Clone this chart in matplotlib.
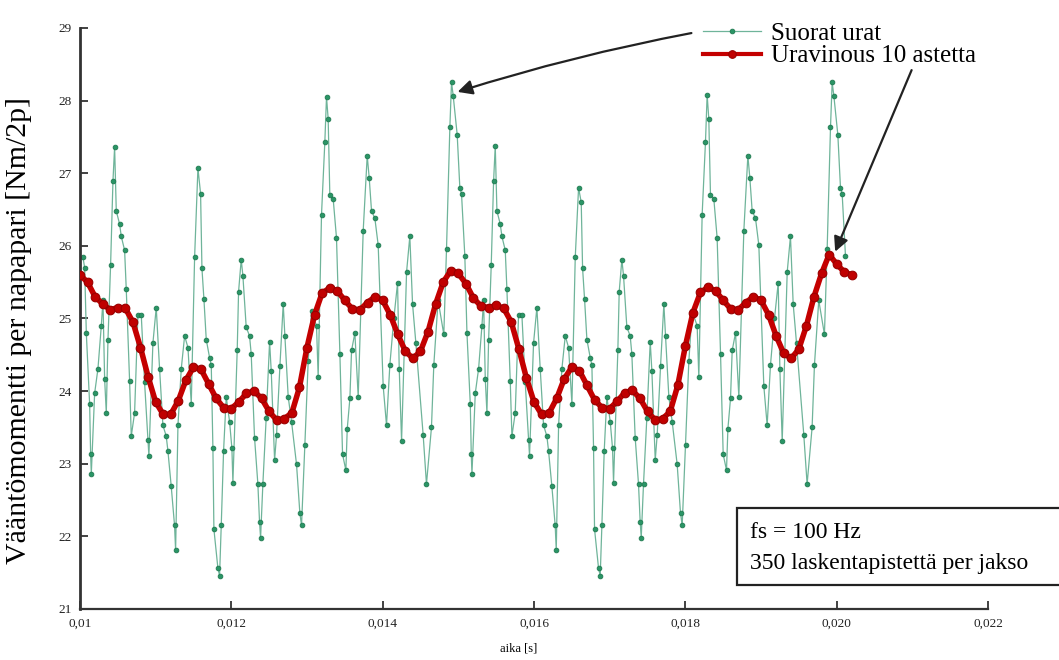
import matplotlib
matplotlib.use("Agg")
import matplotlib.pyplot as plt
import matplotlib.lines as mlines
from matplotlib.patches import Rectangle
import numpy as np

plt.rcParams['font.family'] = ['Liberation Serif', 'DejaVu Serif']

# --- data ---
# "Suorat urat" (straight slots), time [s] and torque [Nm/2p]
green_t = [
    0.010040, 0.010062, 0.010084, 0.010128, 0.010141, 0.010150, 0.010194, 0.010238,
    0.010282, 0.010304, 0.010326, 0.010348, 0.010370, 0.010405, 0.010436, 0.010458,
    0.010480, 0.010524, 0.010546, 0.010590, 0.010612, 0.010656, 0.010678, 0.010722,
    0.010766, 0.010810, 0.010854, 0.010898, 0.010911, 0.010964, 0.011008, 0.011052,
    0.011096, 0.011140, 0.011162, 0.011206, 0.011250, 0.011264, 0.011295, 0.011339,
    0.011383, 0.011427, 0.011471, 0.011515, 0.011559, 0.011594, 0.011612, 0.011638,
    0.011669, 0.011713, 0.011735, 0.011757, 0.011770, 0.011823, 0.011845, 0.011867,
    0.011898, 0.011933, 0.011977, 0.012008, 0.012021, 0.012078, 0.012096, 0.012131,
    0.012153, 0.012197, 0.012241, 0.012263, 0.012307, 0.012351, 0.012373, 0.012387,
    0.012417, 0.012461, 0.012506, 0.012528, 0.012572, 0.012598, 0.012642, 0.012686,
    0.012708, 0.012752, 0.012796, 0.012862, 0.012906, 0.012928, 0.012972, 0.013016,
    0.013060, 0.013126, 0.013148, 0.013192, 0.013236, 0.013258, 0.013280, 0.013302,
    0.013346, 0.013390, 0.013435, 0.013470, 0.013514, 0.013532, 0.013567, 0.013589,
    0.013633, 0.013677, 0.013743, 0.013796, 0.013822, 0.013853, 0.013897, 0.013941,
    0.014007, 0.014051, 0.014095, 0.014148, 0.014197, 0.014219, 0.014250, 0.014316,
    0.014359, 0.014395, 0.014439, 0.014535, 0.014579, 0.014645, 0.014676, 0.014733,
    0.014808, 0.014844, 0.014888, 0.014910, 0.014932, 0.014985, 0.015020, 0.015042,
    0.015086,
    0.015114, 0.015158, 0.015171, 0.015180, 0.015224, 0.015268, 0.015312, 0.015334,
    0.015356, 0.015378, 0.015400, 0.015435, 0.015466, 0.015488, 0.015510, 0.015554,
    0.015576, 0.015620, 0.015642, 0.015686, 0.015708, 0.015752, 0.015796, 0.015840,
    0.015884, 0.015928, 0.015941, 0.015994, 0.016038, 0.016082, 0.016126, 0.016170,
    0.016192, 0.016236, 0.016280, 0.016294, 0.016325, 0.016369, 0.016413, 0.016457,
    0.016501, 0.016545, 0.016589, 0.016624, 0.016642, 0.016668, 0.016699, 0.016743,
    0.016765, 0.016787, 0.016800, 0.016853, 0.016875, 0.016897, 0.016928, 0.016963,
    0.017007, 0.017038, 0.017051, 0.017108, 0.017126, 0.017161, 0.017183, 0.017227,
    0.017271, 0.017293, 0.017337, 0.017381, 0.017403, 0.017417, 0.017447, 0.017491,
    0.017536, 0.017558, 0.017602, 0.017628, 0.017672, 0.017716, 0.017738, 0.017782,
    0.017826, 0.017892, 0.017936, 0.017958, 0.018002, 0.018046, 0.018090, 0.018156,
    0.018178, 0.018222, 0.018266, 0.018288, 0.018310, 0.018332, 0.018376, 0.018420,
    0.018465, 0.018500, 0.018544, 0.018562, 0.018597, 0.018619, 0.018663, 0.018707,
    0.018773, 0.018826, 0.018852, 0.018883, 0.018927, 0.018971, 0.019037, 0.019081,
    0.019125, 0.019178, 0.019227, 0.019249, 0.019280, 0.019346, 0.019389, 0.019425,
    0.019469, 0.019565, 0.019609, 0.019675, 0.019706, 0.019763, 0.019838, 0.019874,
    0.019918, 0.019940, 0.019962, 0.020015, 0.020050, 0.020072, 0.020116,
]
green_v = [
    25.84, 25.70, 24.80, 23.82, 23.13, 22.86, 23.97, 24.31,
    24.90, 25.25, 24.17, 23.70, 24.70, 25.74, 26.89, 27.36,
    26.48, 26.30, 26.13, 25.94, 25.40, 24.14, 23.38, 23.70,
    25.05, 25.05, 24.12, 23.33, 23.11, 24.66, 25.15, 24.31,
    23.53, 23.38, 23.18, 22.69, 22.15, 21.81, 23.53, 24.31,
    24.76, 24.60, 23.82, 25.84, 27.07, 26.72, 25.69, 25.27,
    24.71, 24.46, 24.36, 23.21, 22.10, 21.56, 21.46, 22.15,
    23.18, 23.92, 23.58, 23.21, 22.74, 24.56, 25.37, 25.81,
    25.59, 24.88, 24.76, 24.51, 23.36, 22.72, 22.20, 21.98,
    22.72, 23.63, 24.68, 24.27, 23.05, 23.40, 24.34, 25.20,
    24.76, 23.92, 23.58, 22.99, 22.32, 22.15, 23.26, 24.41,
    25.10, 24.90, 24.19, 26.43, 27.43, 28.05, 27.75, 26.70,
    26.65, 26.11, 24.51, 23.13, 22.91, 23.48, 23.90, 24.56,
    24.80, 23.92, 26.21, 27.24, 26.94, 26.48, 26.38, 26.01,
    24.07, 23.53, 24.36, 25.00, 25.49, 24.31, 23.31, 25.64,
    26.13, 25.20, 24.66, 23.40, 22.72, 23.50, 24.36, 25.25,
    24.78, 25.96, 27.63, 28.25, 28.07, 27.53, 26.80, 26.72,
    25.86,
    24.80, 23.82, 23.13, 22.86, 23.97, 24.31, 24.90, 25.25,
    24.17, 23.70, 24.70, 25.74, 26.89, 27.38, 26.48, 26.30,
    26.13, 25.94, 25.40, 24.14, 23.38, 23.70, 25.05, 25.05,
    24.12, 23.33, 23.11, 24.66, 25.15, 24.31, 23.53, 23.38,
    23.18, 22.69, 22.15, 21.81, 23.53, 24.31, 24.76, 24.60,
    23.82, 25.84, 26.80, 26.60, 25.69, 25.27, 24.71, 24.46,
    24.36, 23.21, 22.10, 21.56, 21.46, 22.15, 23.18, 23.92,
    23.58, 23.21, 22.74, 24.56, 25.37, 25.81, 25.59, 24.88,
    24.76, 24.51, 23.36, 22.72, 22.20, 21.98, 22.72, 23.63,
    24.68, 24.27, 23.05, 23.40, 24.34, 25.20, 24.76, 23.92,
    23.58, 22.99, 22.32, 22.15, 23.26, 24.41, 25.10, 24.90,
    24.19, 26.43, 27.43, 28.08, 27.75, 26.70, 26.65, 26.11,
    24.51, 23.13, 22.91, 23.48, 23.90, 24.56, 24.80, 23.92,
    26.21, 27.24, 26.94, 26.48, 26.38, 26.01, 24.07, 23.53,
    24.36, 25.00, 25.49, 24.31, 23.31, 25.64, 26.13, 25.20,
    24.66, 23.40, 22.72, 23.50, 24.36, 25.25, 24.78, 25.96,
    27.63, 28.25, 28.07, 27.53, 26.80, 26.72, 25.86,
]

# "Uravinous 10 astetta" (10 deg skew), sampled every 0.1 ms from 0.0100 to 0.0202 s
red_t = np.linspace(0.0100, 0.0202, 103)
red_v = [
    25.60, 25.50, 25.30, 25.20, 25.12, 25.15, 25.14, 24.95, 24.60, 24.20,
    23.85, 23.68, 23.68, 23.87, 24.15, 24.33, 24.30, 24.10, 23.90, 23.77,
    23.76, 23.85, 23.97, 24.00, 23.90, 23.72, 23.60, 23.62, 23.70, 24.05,
    24.60, 25.05, 25.35, 25.42, 25.38, 25.25, 25.13, 25.12, 25.22, 25.30,
    25.25, 25.05, 24.78, 24.55, 24.45, 24.55, 24.82, 25.20, 25.50, 25.66,
    25.62,
    25.48, 25.28, 25.17, 25.15, 25.18, 25.14, 24.95, 24.58, 24.18, 23.85,
    23.68, 23.70, 23.90, 24.17, 24.33, 24.28, 24.08, 23.88, 23.77, 23.76,
    23.86, 23.98, 24.01, 23.90, 23.72, 23.60, 23.62, 23.72, 24.08, 24.62,
    25.08, 25.36, 25.43, 25.38, 25.25, 25.13, 25.12, 25.22, 25.30, 25.25,
    25.05, 24.76, 24.52, 24.45, 24.58, 24.90, 25.30, 25.62, 25.88, 25.75,
    25.64, 25.60,
]

x_ticks = [0.010, 0.012, 0.014, 0.016, 0.018, 0.020, 0.022]
x_tick_labels = ['0,01', '0,012', '0,014', '0,016', '0,018', '0,020', '0,022']
y_ticks = [21, 22, 23, 24, 25, 26, 27, 28, 29]

labels = ['Suorat urat', 'Uravinous 10 astetta']

fig = plt.figure(figsize=(10.59, 6.6), dpi=100)
ax = fig.add_axes([0.0755, 0.0773, 0.8575, 0.8803])

green_style = dict(color='#6fb49a', lw=0.9, marker='o', ms=3.4,
                   mfc='#2a9566', mec='#1f7a50', mew=0.6)
red_style = dict(color='#c40000', lw=4.0, marker='o', ms=6.2,
                 mfc='#c00000', mec='#9a0000', mew=0.8)

ax.plot(green_t, green_v, zorder=2, **green_style)
ax.plot(red_t, red_v, zorder=3, **red_style)

ax.set_xlim(0.010, 0.022)
ax.set_ylim(21, 29)
ax.set_xticks(x_ticks)
ax.set_xticklabels(x_tick_labels)
ax.set_yticks(y_ticks)

for s in ['top', 'right']:
    ax.spines[s].set_visible(False)
ax.spines['left'].set_linewidth(2.0)
ax.spines['bottom'].set_linewidth(1.6)
ax.spines['left'].set_color('#333333')
ax.spines['bottom'].set_color('#333333')
ax.tick_params(direction='in', length=6, width=1.3, colors='#333333',
               labelsize=9.5, labelcolor='#222222')
ax.tick_params(axis='y', pad=6)
ax.tick_params(axis='x', pad=6)

fig.text(19 / 1059, 0.500, 'Vääntömomentti per napapari [Nm/2p]',
         rotation=90, ha='center', va='center', fontsize=21.5)
fig.text(0.49, 0.018, 'aika [s]', ha='center', va='center', fontsize=9)

red_handle_style = dict(red_style, lw=3.0, ms=5.5)
handles = [mlines.Line2D([], [], **green_style),
           mlines.Line2D([], [], **red_handle_style)]
ax.legend(handles, labels, loc='upper left', bbox_to_anchor=(0.664, 0.966),
          bbox_transform=fig.transFigure, frameon=False, fontsize=18,
          borderpad=0, borderaxespad=0, handlelength=2.3, handletextpad=0.4,
          labelspacing=0.0)

arrow = dict(arrowstyle='-|>', color='#222222', lw=1.6, mutation_scale=22,
             shrinkA=0, shrinkB=0)
ax.annotate('', xy=(0.01499, 28.12), xytext=(0.01808, 28.93),
            arrowprops=dict(connectionstyle='arc3,rad=0.03', **arrow),
            annotation_clip=False)
ax.annotate('', xy=(0.01998, 25.92), xytext=(0.02099, 28.42),
            arrowprops=arrow, annotation_clip=False)

# info box, running off the right edge as in the original
fig.patches.append(Rectangle((737 / 1059, 1 - 585 / 660), 0.4, 77 / 660,
                             transform=fig.transFigure, fc='white',
                             ec='#222222', lw=1.6, zorder=5))
fig.text(750 / 1059, 1 - 532 / 660, 'fs = 100 Hz', ha='left', va='center',
         fontsize=17, zorder=6)
fig.text(750 / 1059, 1 - 563 / 660, '350 laskentapistettä per jakso',
         ha='left', va='center', fontsize=17, zorder=6)

fig.savefig('out.png', dpi=100, facecolor='white')
